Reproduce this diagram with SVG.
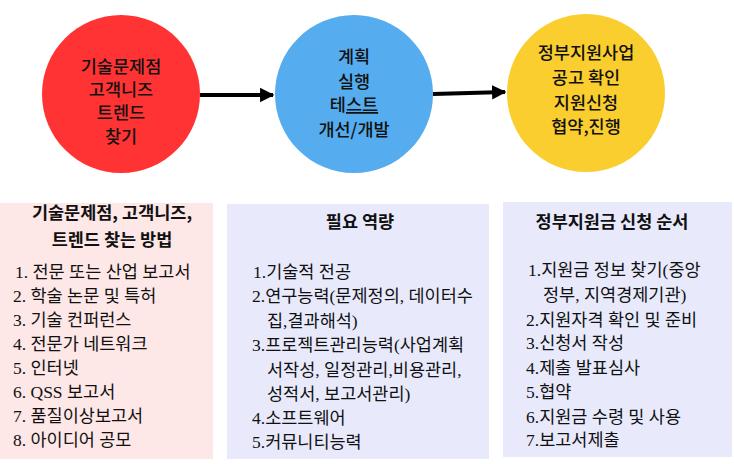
<svg xmlns="http://www.w3.org/2000/svg" width="734" height="464" viewBox="0 0 734 464">
<style>
.ct{font-family:"Noto Sans CJK KR","Liberation Sans",sans-serif;font-size:17.5px;font-weight:500;fill:#111;text-anchor:middle}
.tt{font-family:"Noto Sans CJK KR","Liberation Sans",sans-serif;font-size:17.5px;font-weight:700;fill:#111;text-anchor:middle}
.li{font-family:"Liberation Serif","Noto Sans CJK KR",serif;font-size:17.5px;fill:#111}
.edge{stroke:#000;stroke-width:4;fill:none}
</style>
<defs>
<marker id="ah" viewBox="0 0 10 10" refX="9" refY="5" markerWidth="3.6" markerHeight="4" orient="auto" markerUnits="strokeWidth">
<path d="M0,0 L10,5 L0,10 z" fill="#000"/>
</marker>
</defs>
<rect width="734" height="464" fill="#fff"/>
<g id="connectors">
<path class="edge" d="M200,95 L273,95" marker-end="url(#ah)"/>
<path class="edge" d="M433,94 L505,92" marker-end="url(#ah)"/>
</g>
<g id="n1">
<circle cx="121" cy="94" r="79" fill="#FF3333"/>
<text class="ct" x="121" y="73">기술문제점</text>
<text class="ct" x="121" y="96">고객니즈</text>
<text class="ct" x="121" y="119">트렌드</text>
<text class="ct" x="121" y="143">찾기</text>
</g>
<g id="n2">
<circle cx="354" cy="94" r="79" fill="#55ACEE"/>
<text class="ct" x="354" y="63">계획</text>
<text class="ct" x="354" y="88">실행</text>
<text class="ct" x="354" y="111">테<tspan text-decoration="underline">스트</tspan></text>
<text class="ct" x="354" y="136">개선/개발</text>
</g>
<g id="n3">
<circle cx="586" cy="93" r="79" fill="#F9CE2E"/>
<text class="ct" x="586" y="59">정부지원사업</text>
<text class="ct" x="586" y="84">공고 확인</text>
<text class="ct" x="586" y="109">지원신청</text>
<text class="ct" x="586" y="133">협약,진행</text>
</g>
<g id="box1">
<rect x="0" y="203" width="213" height="256" fill="#FDE7E7"/>
<text class="tt" x="112" y="219">기술문제점, 고객니즈,</text>
<text class="tt" x="112" y="246">트렌드 찾는 방법</text>
<text class="li" x="15" y="278">1. 전문 또는 산업 보고서</text>
<text class="li" x="13" y="302">2. 학술 논문 및 특허</text>
<text class="li" x="13" y="326">3. 기술 컨퍼런스</text>
<text class="li" x="13" y="350">4. 전문가 네트워크</text>
<text class="li" x="13" y="374">5. 인터넷</text>
<text class="li" x="13" y="398">6. QSS 보고서</text>
<text class="li" x="13" y="422">7. 품질이상보고서</text>
<text class="li" x="13" y="446">8. 아이디어 공모</text>
</g>
<g id="box2">
<rect x="227" y="204" width="262" height="255" fill="#E8EAFC"/>
<text class="tt" x="360" y="228">필요 역량</text>
<text class="li" x="253" y="278">1.기술적 전공</text>
<text class="li" x="252" y="302">2.연구능력(문제정의, 데이터수</text>
<text class="li" x="267" y="327">집,결과해석)</text>
<text class="li" x="252" y="351">3.프로젝트관리능력(사업계획</text>
<text class="li" x="267" y="376">서작성, 일정관리,비용관리,</text>
<text class="li" x="267" y="400">성적서, 보고서관리)</text>
<text class="li" x="252" y="424">4.소프트웨어</text>
<text class="li" x="252" y="448">5.커뮤니티능력</text>
</g>
<g id="box3">
<rect x="503" y="202" width="229" height="255" fill="#E8EAFC"/>
<text class="tt" x="612" y="228">정부지원금 신청 순서</text>
<text class="li" x="528" y="276">1.지원금 정보 찾기(중앙</text>
<text class="li" x="543" y="301">정부, 지역경제기관)</text>
<text class="li" x="526" y="326">2.지원자격 확인 및 준비</text>
<text class="li" x="526" y="349">3.신청서 작성</text>
<text class="li" x="526" y="374">4.제출 발표심사</text>
<text class="li" x="526" y="398">5.협약</text>
<text class="li" x="526" y="423">6.지원금 수령 및 사용</text>
<text class="li" x="526" y="446">7.보고서제출</text>
</g>
</svg>
